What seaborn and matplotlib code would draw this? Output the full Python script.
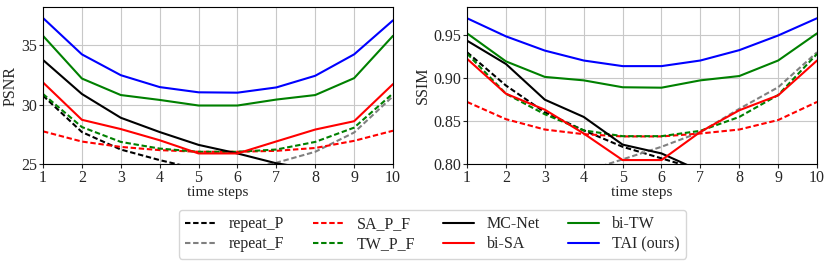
import matplotlib
matplotlib.use("Agg")
import matplotlib.pyplot as plt
import seaborn as sns

steps = list(range(1, 11))

# PSNR per time step
psnr_repeat_P = [30.75, 27.69, 26.22, 25.33, 24.56, 23.9, 23.3, 22.8, 22.4, 22.0]
psnr_repeat_F = [22.0, 22.4, 22.8, 23.3, 23.9, 24.45, 25.11, 26.03, 27.65, 30.7]
psnr_SA_P_F = [27.75, 26.89, 26.44, 26.17, 26.03, 26.03, 26.11, 26.35, 26.95, 27.8]
psnr_TW_P_F = [30.89, 28.11, 26.86, 26.3, 26.03, 26.03, 26.22, 26.86, 28.06, 30.94]
psnr_MC_Net = [33.75, 30.89, 28.89, 27.69, 26.61, 25.89, 25.06, 24.55, 24.0, 23.5]
psnr_bi_SA = [31.86, 28.72, 27.94, 27.0, 25.89, 25.89, 26.9, 27.9, 28.6, 31.72]
psnr_bi_TW = [35.78, 32.19, 30.8, 30.39, 29.92, 29.92, 30.42, 30.8, 32.22, 35.78]
psnr_TAI = [37.28, 34.22, 32.47, 31.47, 31.03, 31.0, 31.44, 32.42, 34.22, 37.08]

# SSIM per time step
ssim_repeat_P = [0.9296, 0.891, 0.860, 0.839, 0.820, 0.8066, 0.793, 0.78, 0.77, 0.76]
ssim_repeat_F = [0.76, 0.77, 0.78, 0.791, 0.8054, 0.82, 0.837, 0.864, 0.889, 0.9296]
ssim_SA_P_F = [0.872, 0.852, 0.840, 0.8346, 0.832, 0.832, 0.8354, 0.840, 0.851, 0.872]
ssim_TW_P_F = [0.928, 0.8815, 0.8577, 0.839, 0.8323, 0.8323, 0.8385, 0.8546, 0.880, 0.9277]
ssim_MC_Net = [0.943, 0.916, 0.8746, 0.8546, 0.8225, 0.8123, 0.792, 0.78, 0.77, 0.76]
ssim_bi_SA = [0.922, 0.8815, 0.863, 0.8354, 0.8046, 0.8046, 0.8373, 0.8623, 0.8796, 0.920]
ssim_bi_TW = [0.9515, 0.919, 0.901, 0.897, 0.889, 0.8885, 0.897, 0.902, 0.920, 0.9515]
ssim_TAI = [0.969, 0.948, 0.9315, 0.920, 0.9135, 0.9135, 0.920, 0.932, 0.949, 0.969]

labels = ["repeat_P", "repeat_F", "SA_P_F", "TW_P_F", "MC-Net", "bi-SA", "bi-TW", "TAI (ours)"]
psnr_series = [psnr_repeat_P, psnr_repeat_F, psnr_SA_P_F, psnr_TW_P_F,
               psnr_MC_Net, psnr_bi_SA, psnr_bi_TW, psnr_TAI]
ssim_series = [ssim_repeat_P, ssim_repeat_F, ssim_SA_P_F, ssim_TW_P_F,
               ssim_MC_Net, ssim_bi_SA, ssim_bi_TW, ssim_TAI]
colors = ["black", "gray", "red", "green", "black", "red", "green", "blue"]
dashed = (0, (2.6, 1.3))
styles = [dashed, dashed, dashed, dashed, "-", "-", "-", "-"]

sns.set_style("whitegrid", {"axes.edgecolor": "black", "grid.color": "#c8c8c8"})
plt.rcParams["font.family"] = ["Liberation Serif", "DejaVu Serif"]
plt.rcParams["font.size"] = 11.5
plt.rcParams["xtick.bottom"] = True
plt.rcParams["ytick.left"] = True
plt.rcParams["xtick.major.size"] = 3
plt.rcParams["ytick.major.size"] = 3

fig = plt.figure(figsize=(8.3, 2.65), dpi=100)
ax1 = fig.add_axes([0.0518, 0.381, 0.4217, 0.5925])
ax2 = fig.add_axes([0.5627, 0.381, 0.4217, 0.5925])

for ax, series in [(ax1, psnr_series), (ax2, ssim_series)]:
    for vals, lab, c, ls in zip(series, labels, colors, styles):
        sns.lineplot(x=steps, y=vals, ax=ax, color=c, linestyle=ls,
                     linewidth=1.5, label=lab, legend=False)
    ax.set_xlim(1, 10)
    ax.set_xticks(steps)
    ax.set_xlabel("time steps", labelpad=0, fontsize=11)
    for sp in ax.spines.values():
        sp.set_linewidth(0.8)
        sp.set_color("black")
    ax.tick_params(axis="both", pad=1, labelsize=11.5)

ax1.set_ylim(25, 38.2)
ax1.set_yticks([25, 30, 35])
ax1.set_ylabel("PSNR", labelpad=2)
ax2.set_ylim(0.80, 0.982)
ax2.set_yticks([0.80, 0.85, 0.90, 0.95])
ax2.set_yticklabels(["0.80", "0.85", "0.90", "0.95"])
ax2.set_ylabel("SSIM", labelpad=2)

handles, labs = ax1.get_legend_handles_labels()
fig.legend(handles, labs, loc="center", bbox_to_anchor=(0.521, 0.116), ncol=4,
           frameon=True, edgecolor="#cccccc", fontsize=11.5, handlelength=1.95,
           columnspacing=1.75, handletextpad=0.8, borderpad=0.4, labelspacing=0.25)

fig.savefig("out.png", dpi=100)
